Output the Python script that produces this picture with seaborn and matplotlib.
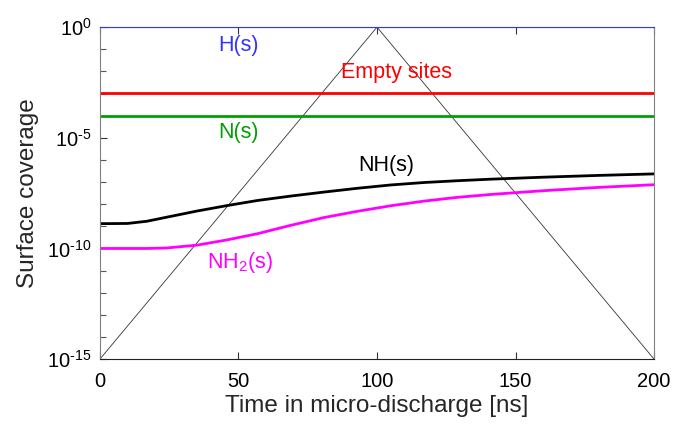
import matplotlib
matplotlib.use("Agg")
import matplotlib.pyplot as plt
import matplotlib.ticker as mticker
import seaborn as sns
import pandas as pd

# ---- data ----
t_curve = [0, 10, 17, 24, 35, 46, 57, 69, 81, 93, 105, 117, 129, 141, 160, 180, 200]
nh_vals = [1.32e-9, 1.35e-9, 1.70e-9, 2.57e-9, 4.90e-9, 8.71e-9, 1.48e-8, 2.34e-8,
           3.55e-8, 5.25e-8, 7.41e-8, 9.55e-8, 1.15e-7, 1.35e-7, 1.66e-7, 2.0e-7, 2.34e-7]
nh2_vals = [1.0e-10, 1.0e-10, 1.0e-10, 1.05e-10, 1.41e-10, 2.45e-10, 4.68e-10, 1.12e-9,
            2.51e-9, 4.79e-9, 8.51e-9, 1.38e-8, 2.04e-8, 2.75e-8, 4.07e-8, 5.75e-8, 7.59e-8]
t_const = [0, 200]
h_vals = [1.0, 1.0]
empty_vals = [1.1e-3, 1.1e-3]
n_vals = [1.0e-4, 1.0e-4]
t_pulse = [0, 100, 200]
pulse_vals = [1e-15, 1.0, 1e-15]

ytick_vals = [1e-15, 1e-10, 1e-5, 1e0]
ytick_labels = [r"$10^{\text{-}15}$", r"$10^{\text{-}10}$", r"$10^{\text{-}5}$", r"$10^{0}$"]
xtick_vals = [0, 50, 100, 150, 200]

sns.set_style("white")
plt.rcParams["font.family"] = ["Liberation Sans", "DejaVu Sans"]
plt.rcParams["mathtext.fontset"] = "custom"
plt.rcParams["mathtext.rm"] = "Liberation Sans"
plt.rcParams["mathtext.it"] = "Liberation Sans:italic"
plt.rcParams["mathtext.bf"] = "Liberation Sans:bold"

fig = plt.figure(figsize=(6.75, 4.24), dpi=100)
ax = fig.add_axes([0.148, 0.153, 0.821, 0.783])

def draw(x, y, color, lw):
    df = pd.DataFrame({"t": x, "v": y})
    sns.lineplot(data=df, x="t", y="v", ax=ax, color=color, linewidth=lw,
                 estimator=None, sort=False)

draw(t_pulse, pulse_vals, "#333333", 0.6)
draw(t_curve, nh2_vals, "#ff00ff", 2.0)
draw(t_curve, nh_vals, "#000000", 2.0)
draw(t_const, n_vals, "#00a000", 2.0)
draw(t_const, empty_vals, "#ff0000", 2.0)
draw(t_const, h_vals, "#3333ff", 1.5)

ax.set_yscale("log")
ax.set_xlim(0, 200)
ax.set_ylim(1e-15, 1.0)
ax.set_xticks(xtick_vals)
ax.set_yticks(ytick_vals)
ax.set_yticklabels(ytick_labels)
ax.yaxis.set_minor_locator(mticker.FixedLocator([10.0 ** e for e in range(-15, 1)]))
ax.yaxis.set_minor_formatter(mticker.NullFormatter())
ax.tick_params(axis="both", which="major", direction="in", length=5,
               labelsize=14.5, width=0.8, colors="#333333", labelcolor="black")
ax.tick_params(axis="y", which="minor", direction="in", length=4, width=0.8,
               colors="#555555")
ax.tick_params(axis="x", top=True, bottom=True, pad=9)
ax.tick_params(axis="y", left=True, right=False, which="both", pad=6)

for s in ["left", "right"]:
    ax.spines[s].set_color("#808080")
ax.spines["bottom"].set_color("#222222")
ax.spines["top"].set_color("#3333ff")

ax.set_xlabel("Time in micro-discharge [ns]", fontsize=17.5, labelpad=3)
ax.set_ylabel("Surface coverage", fontsize=17.5, labelpad=6)

ax.text(50, 10 ** -0.83, "H(s)", color="#3333ff", fontsize=15.5, ha="center", va="center")
ax.text(107, 10 ** -2.05, "Empty sites", color="#ff0000", fontsize=15.5, ha="center", va="center")
ax.text(50, 10 ** -4.74, "N(s)", color="#00a000", fontsize=15.5, ha="center", va="center")
ax.text(103.5, 10 ** -6.25, "NH(s)", color="#000000", fontsize=15.5, ha="center", va="center")
ax.text(50.5, 10 ** -10.62, r"NH$_2$(s)", color="#ff00ff", fontsize=15.5, ha="center", va="center")

fig.savefig("out.png", dpi=100)
